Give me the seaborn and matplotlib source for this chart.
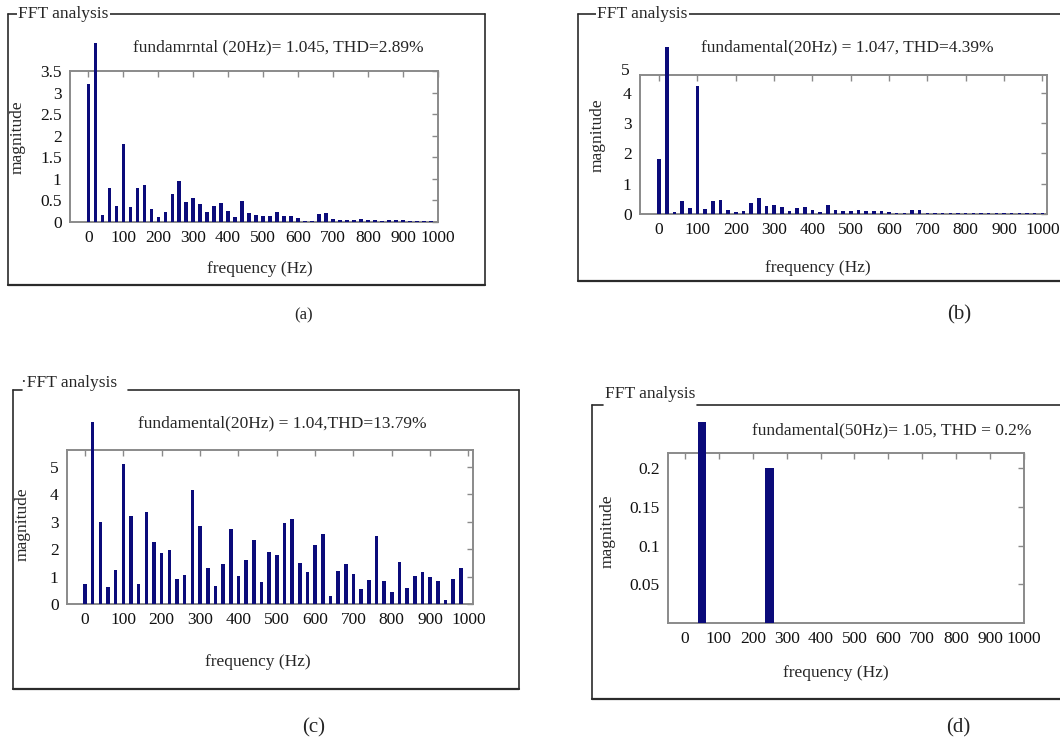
import matplotlib
matplotlib.use("Agg")
import matplotlib.pyplot as plt
import matplotlib.transforms as mtransforms
from matplotlib.lines import Line2D
import seaborn as sns

# harmonic frequencies (Hz) and magnitudes
freq_a = list(range(0, 1000, 20))
mag_a = [3.19, 4.15, 0.17, 0.78, 0.37, 1.80, 0.35, 0.79, 0.85, 0.29,
         0.11, 0.24, 0.64, 0.94, 0.46, 0.56, 0.42, 0.24, 0.38, 0.44,
         0.26, 0.12, 0.49, 0.20, 0.17, 0.14, 0.13, 0.24, 0.14, 0.14,
         0.10, 0.02, 0.02, 0.19, 0.21, 0.06, 0.05, 0.05, 0.04, 0.07,
         0.05, 0.05, 0.02, 0.04, 0.04, 0.05, 0.03, 0.03, 0.02, 0.02]

freq_b = list(range(0, 1001, 20))
mag_b = [1.81, 5.49, 0.05, 0.42, 0.19, 4.22, 0.16, 0.42, 0.47, 0.14,
         0.07, 0.11, 0.35, 0.52, 0.26, 0.30, 0.22, 0.11, 0.21, 0.24,
         0.13, 0.08, 0.30, 0.14, 0.10, 0.09, 0.14, 0.11, 0.09, 0.10,
         0.08, 0.02, 0.02, 0.12, 0.14, 0.03, 0.02, 0.03, 0.02, 0.03,
         0.02, 0.03, 0.02, 0.02, 0.02, 0.02, 0.03, 0.02, 0.02, 0.02,
         0.02]

freq_c = list(range(0, 1000, 20))
mag_c = [0.73, 6.65, 3.00, 0.63, 1.24, 5.12, 3.21, 0.72, 3.35, 2.27,
         1.85, 1.96, 0.90, 1.07, 4.15, 2.85, 1.33, 0.67, 1.46, 2.74,
         1.03, 1.59, 2.32, 0.82, 1.90, 1.78, 2.95, 3.10, 1.49, 1.17,
         2.17, 2.54, 0.29, 1.20, 1.46, 1.11, 0.56, 0.88, 2.48, 0.85,
         0.43, 1.55, 0.57, 1.01, 1.17, 1.00, 0.84, 0.13, 0.93, 1.32]

freq_d = [50, 250]
mag_d = [0.26, 0.20]

titles = ["fundamrntal (20Hz)= 1.045, THD=2.89%",
          "fundamental(20Hz) = 1.047, THD=4.39%",
          "fundamental(20Hz) = 1.04,THD=13.79%",
          "fundamental(50Hz)= 1.05, THD = 0.2%"]
xticks = list(range(0, 1001, 100))

NAVY = "#0b0b7a"
GREY = "#8a8a8a"
W, H = 1060, 743

sns.set_style("white")
plt.rcParams["font.family"] = ["Liberation Serif", "DejaVu Serif"]

fig = plt.figure(figsize=(W / 100, H / 100), dpi=100)


def px(x, y):
    return x / W, 1 - y / H


def box(l, t, r, b):
    # axes rectangle from pixel edges
    return [l / W, 1 - b / H, (r - l) / W, (b - t) / H]


def line(x0, y0, x1, y1, lw=1.2):
    (a, b), (c, d) = px(x0, y0), px(x1, y1)
    fig.add_artist(Line2D([a, c], [b, d], color="#2b2b2b", lw=lw))


def panel(rect, freq, mag, width, xlim, ylim, yticks, ylabels):
    ax = fig.add_axes(rect)
    sns.barplot(x=freq, y=mag, native_scale=True, width=width, color=NAVY,
                saturation=1, errorbar=None, linewidth=0, ax=ax)
    for p in ax.patches:
        p.set_clip_on(False)
        p.set_zorder(3)
    ax.set_xlim(xlim)
    ax.set_ylim(ylim)
    ax.set_xticks(xticks)
    ax.set_xticklabels([str(t) for t in xticks])
    ax.set_yticks(yticks)
    ax.set_yticklabels(ylabels)
    ax.set_xlabel("")
    ax.set_ylabel("")
    ax.tick_params(direction="in", top=True, right=True, length=4, width=1,
                   color=GREY, labelsize=12.5, pad=6, labelcolor="#111111")
    for s in ax.spines.values():
        s.set_color(GREY)
        s.set_linewidth(1.4)
    return ax


# --- (a) ---
panel(box(70, 71, 438, 222), freq_a, mag_a, 0.47, (-52, 1000), (0, 3.5),
      [0, 0.5, 1, 1.5, 2, 2.5, 3, 3.5],
      ["0", "0.5", "1", "1.5", "2", "2.5", "3", "3.5"])

# --- (b) ---
ax_b = panel(box(640, 75, 1047, 214), freq_b, mag_b, 0.45, (-50, 1012), (0, 4.58),
             [0, 1, 2, 3, 4], ["0", "1", "2", "3", "4"])
ax_b.text(-0.025, 4.72, "5", transform=mtransforms.blended_transform_factory(ax_b.transAxes, ax_b.transData),
          ha="right", va="center", fontsize=12.5, color="#111111")

# --- (c) ---
panel(box(67, 450, 473, 604), freq_c, mag_c, 0.47, (-47, 1012), (0, 5.62),
      [0, 1, 2, 3, 4, 5], ["0", "1", "2", "3", "4", "5"])

# --- (d) ---
panel(box(668, 453, 1024, 623), freq_d, mag_d, 0.125, (-50, 1000), (0, 0.22),
      [0.05, 0.1, 0.15, 0.2], ["0.05", "0.1", "0.15", "0.2"])

# surrounding frames
line(8, 14, 485, 14)
line(8, 14, 8, 285)
line(8, 285, 485, 285, 1.6)
line(485, 14, 485, 285)

line(578, 14, 1060, 14)
line(578, 14, 578, 281)
line(578, 281, 1060, 281, 1.6)

line(13, 390, 22, 390)
line(128, 390, 519, 390)
line(13, 390, 13, 689)
line(13, 689, 519, 689, 1.6)
line(519, 390, 519, 689)

line(592, 405, 603, 405)
line(697, 405, 1060, 405)
line(592, 405, 592, 699)
line(592, 699, 1060, 699, 1.6)

wbox = dict(facecolor="white", edgecolor="none", pad=1)
fig.text(*px(18, 14), "FFT analysis", ha="left", va="center", fontsize=12.5, bbox=wbox)
fig.text(*px(597, 14), "FFT analysis", ha="left", va="center", fontsize=12.5, bbox=wbox)
fig.text(*px(21, 383), "\u00b7FFT analysis", ha="left", va="center", fontsize=12.5)
fig.text(*px(605, 394), "FFT analysis", ha="left", va="center", fontsize=12.5)

# panel annotations and axis labels
for (tx, ty), (xx, xy), (yx, yy), s in [
        ((278, 47), (260, 269), (18, 137), titles[0]),
        ((847, 47), (818, 268), (598, 135), titles[1]),
        ((282, 423), (258, 662), (23, 524), titles[2]),
        ((892, 430), (836, 673), (608, 531), titles[3])]:
    fig.text(*px(tx, ty), s, ha="center", va="center", fontsize=12.5)
    fig.text(*px(xx, xy), "frequency (Hz)", ha="center", va="center", fontsize=12.5)
    fig.text(*px(yx, yy), "magnitude", ha="center", va="center", fontsize=12.5, rotation=90)

fig.text(*px(304, 315), "(a)", ha="center", va="center", fontsize=12)
fig.text(*px(959, 315), "(b)", ha="center", va="center", fontsize=15)
fig.text(*px(314, 728), "(c)", ha="center", va="center", fontsize=15)
fig.text(*px(958, 728), "(d)", ha="center", va="center", fontsize=15)

fig.savefig("out.png", dpi=100, facecolor="white")
